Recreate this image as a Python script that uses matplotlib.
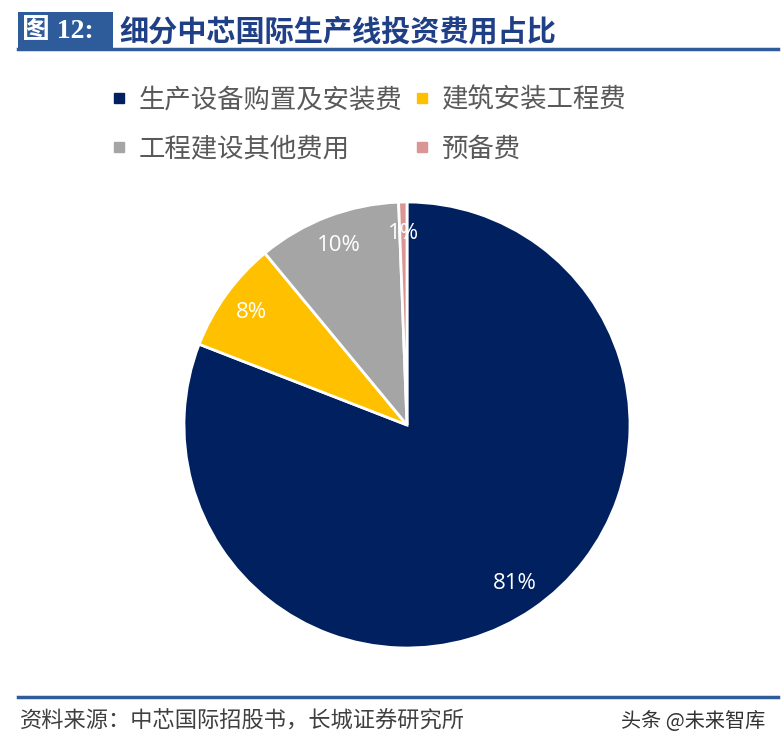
import numpy as np
import matplotlib.pyplot as plt
from matplotlib.lines import Line2D
from matplotlib.patches import Rectangle

plt.rcParams['font.family'] = ['Noto Sans CJK SC', 'DejaVu Sans']

# 数据
categories = ['生产设备购置及安装费', '建筑安装工程费', '工程建设其他费用', '预备费']
shares = [80.9, 8.1, 10.4, 0.6]
colors = ['#002060', '#FFC000', '#A5A5A5', '#D99694']

fig = plt.figure(figsize=(7.84, 7.51), dpi=100)

# 标题栏
fig.add_artist(Rectangle((18 / 784, 1 - 48 / 751), 95 / 784, 36 / 751,
                         transform=fig.transFigure, color='#2E5B9A', lw=0))
fig.add_artist(Line2D([18 / 784, 778 / 784], [1 - 49 / 751, 1 - 49 / 751],
                      transform=fig.transFigure, color='#2E5B9A', lw=2.5))
fig.text(22 / 784, 1 - 31 / 751, '图 12:', color='white', fontsize=20, fontweight='bold',
         family=['Liberation Serif', 'Noto Sans CJK SC'], va='center', ha='left')
fig.text(119 / 784, 1 - 31 / 751, '细分中芯国际生产线投资费用占比', color='#1F3F86',
         fontsize=21, fontweight='bold', va='center', ha='left')

# 饼图
ax = fig.add_axes([(407 - 223) / 784, (751 - 425 - 223) / 751, 446 / 784, 446 / 751])
wedges, _ = ax.pie(shares, colors=colors, startangle=90, counterclock=False,
                   wedgeprops=dict(edgecolor='white', linewidth=2))
for w, v in zip(wedges, shares):
    ang = np.deg2rad((w.theta1 + w.theta2) / 2)
    ax.text(0.86 * np.cos(ang), 0.86 * np.sin(ang), f'{round(v):.0f}%', color='white',
            fontsize=16, ha='center', va='center', family=['Open Sans', 'DejaVu Sans'])
ax.set_xlim(-1, 1)
ax.set_ylim(-1, 1)
ax.set_aspect('equal')
ax.axis('off')

# 图例（按行排列）
order = [0, 2, 1, 3]
handles = [Line2D([], [], marker='s', ls='', color=colors[i], markersize=7) for i in order]
leg = fig.legend(handles, [categories[i] for i in order], ncol=2, loc='upper left',
                 bbox_to_anchor=(98 / 784, 1 - 73 / 751), frameon=False,
                 fontsize=19, handlelength=0.6, handletextpad=0.45,
                 columnspacing=0.45, labelspacing=0.85, borderpad=0)
for t in leg.get_texts():
    t.set_color('#595959')

# 底部
fig.add_artist(Line2D([18 / 784, 778 / 784], [1 - 697 / 751, 1 - 697 / 751],
                      transform=fig.transFigure, color='#2E5B9A', lw=2.5))
fig.text(20 / 784, 1 - 721 / 751, '资料来源：中芯国际招股书，长城证券研究所', color='#404040',
         fontsize=16, style='italic', va='center', ha='left')
fig.text(765 / 784, 1 - 721 / 751, '头条 @未来智库', color='#333333',
         fontsize=14.5, va='center', ha='right')

fig.savefig('out.png', dpi=100)
